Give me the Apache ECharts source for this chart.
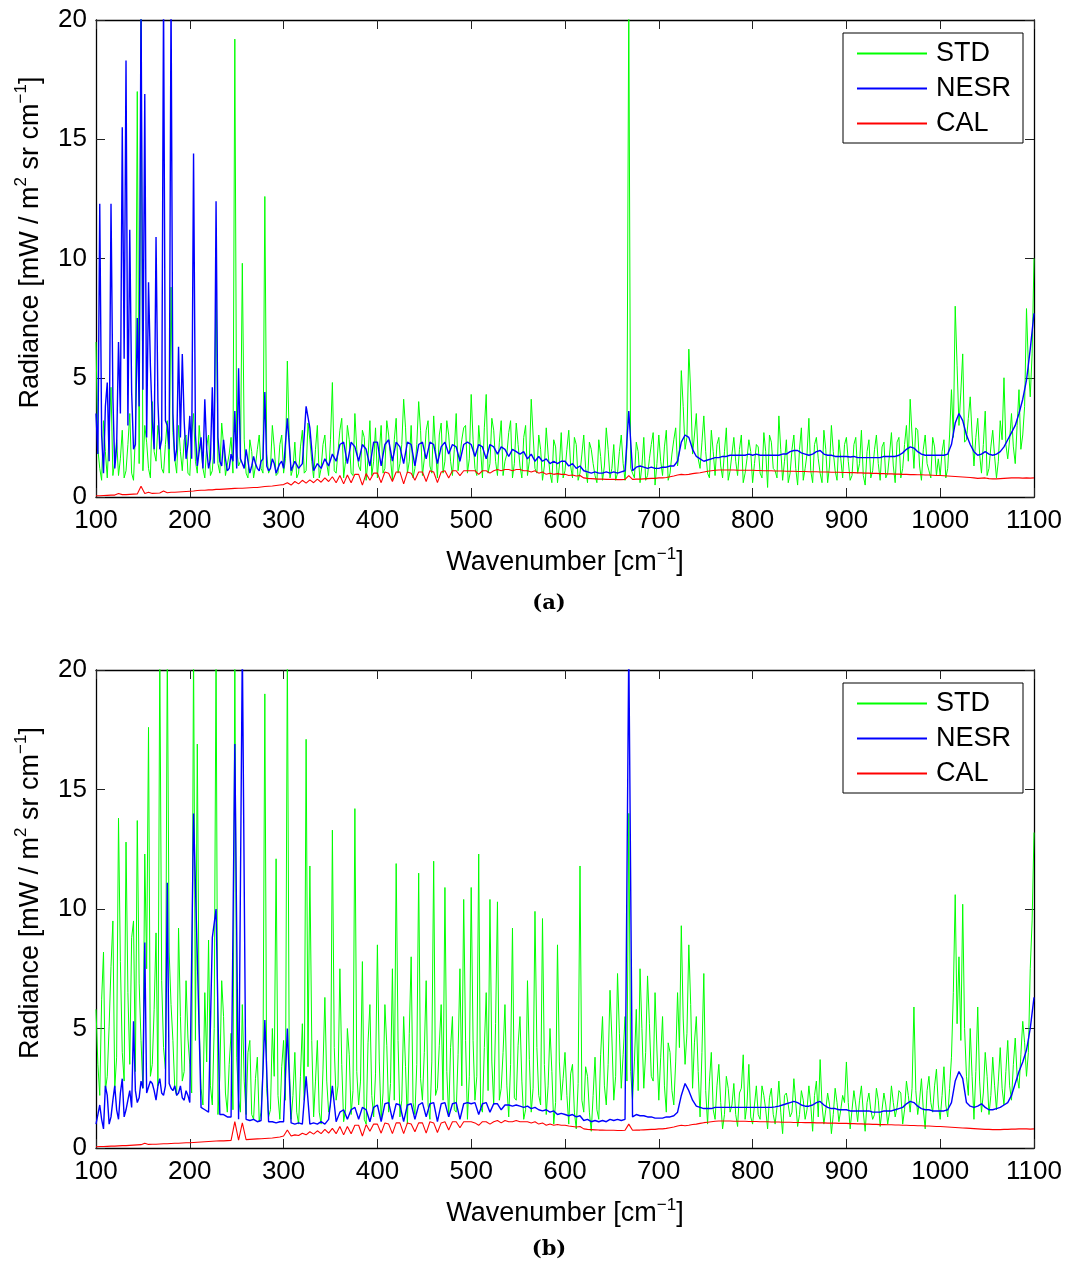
<!DOCTYPE html>
<html><head><meta charset="utf-8">
<script src="https://cdn.jsdelivr.net/npm/echarts@6/dist/echarts.min.js"></script>
<style>html,body{margin:0;padding:0;background:#fff}#c{width:1071px;height:1271px}</style>
</head><body><div id="c"></div><script>
// sampling grid of the spectra (wavenumber, cm^-1): main samples every 4, extra samples half-way between
const wnStart = 100, wnStep = 4;
const xMin = 100, xMax = 1100, xInterval = 100;
const yMin = 0, yMax = 20, yInterval = 5;
const seriesNames = ['STD', 'NESR', 'CAL'];
const captions = ['(a)', '(b)'];

// ---- panel (a) ----
const stdA = [
 6.5,1.2,3.2,0.8,4.6,1.5,0.9,2.8,1.1,3.5,0.7,17.0,21,3.0,1.2,4.0,1.5,2.5,1.0,3.2,8.8,1.6,3.0,1.1,2.6,
 0.9,3.5,1.0,2.0,0.8,2.6,1.1,9.2,1.0,2.2,0.9,2.5,19.2,1.3,9.8,1.0,2.4,0.8,2.0,1.2,12.6,1.0,3.0,0.9,2.2,
 1.0,5.7,0.9,2.3,1.0,2.8,1.1,2.4,0.8,3.0,1.2,2.6,0.9,4.8,1.0,2.8,0.8,3.0,1.0,3.5,1.3,2.8,0.7,3.2,1.5,
 0.8,3.0,1.2,2.6,0.7,3.3,1.4,4.1,1.0,3.0,1.2,4.0,0.9,2.8,1.3,3.4,0.8,3.1,1.5,2.6,0.9,3.5,1.1,2.9,1.0,
 4.3,1.2,3.0,0.8,4.3,1.4,2.8,0.9,3.2,1.5,2.7,0.8,3.1,1.3,2.5,0.9,4.1,1.2,2.6,0.7,2.9,1.0,2.4,0.6,2.7,
 1.1,2.8,0.8,2.2,1.0,2.6,0.6,2.0,0.9,2.4,0.7,2.9,0.8,2.2,1.0,2.6,0.7,21,1.0,2.3,0.6,2.5,0.9,2.2,0.5,
 2.6,0.9,2.8,1.0,2.4,1.3,5.3,2.0,6.2,1.8,3.5,1.2,3.4,1.0,2.8,0.9,2.5,0.8,2.9,1.1,2.5,0.9,2.6,1.0,2.4,
 0.6,2.2,1.0,2.7,0.4,2.3,1.1,3.4,0.7,2.4,1.0,2.6,0.5,2.9,1.2,3.3,0.6,2.5,1.0,2.8,0.6,3.0,1.1,2.4,0.8,
 2.5,0.7,2.2,1.0,2.8,0.5,2.4,1.1,2.6,0.7,2.3,1.0,2.7,0.6,2.5,1.2,3.0,4.1,1.2,2.8,0.7,2.6,1.1,2.5,0.9,
 0.9,2.4,1.2,4.5,8.0,3.0,6.0,2.4,4.2,1.3,3.3,1.0,3.6,1.2,2.8,0.8,3.2,5.0,1.6,3.5,1.4,4.5,2.6,7.9,4.2,
 10.0
];
const stdAMid = [
 2.0,0.7,1.9,2.7,0.9,2.4,1.6,0.8,2.2,1.0,2.6,1.4,1.1,2.3,0.8,1.9,3.0,1.2,2.2,1.0,2.7,1.0,1.9,2.4,1.0,
 2.6,1.5,3.0,1.2,2.1,0.9,2.3,1.4,3.1,0.9,1.8,1.0,2.0,1.5,2.4,0.8,1.9,1.3,2.6,1.0,1.8,1.2,2.1,1.0,2.6,
 1.6,2.5,1.2,0.8,2.1,1.0,3.1,1.5,2.0,0.8,2.2,1.4,2.4,1.1,1.9,3.3,1.5,2.4,0.9,2.0,1.1,2.5,1.6,0.9,2.9,
 1.9,1.0,3.2,1.6,2.4,1.0,2.2,2.9,1.5,0.8,2.2,2.8,1.6,3.2,1.0,2.0,2.6,1.0,3.2,1.5,2.0,1.1,2.4,3.0,1.6,
 2.4,0.9,2.0,2.9,1.0,3.3,1.5,2.3,0.9,1.8,3.2,1.4,2.2,0.8,3.0,1.5,2.6,1.0,2.0,1.3,1.8,0.6,2.1,1.3,0.8,
 2.0,1.3,2.5,0.7,1.8,1.2,2.3,1.4,0.6,1.7,1.3,2.0,1.2,0.7,1.9,1.4,2.1,1.2,0.8,1.9,1.3,0.7,1.6,2.7,1.4,
 1.5,2.1,0.7,1.8,2.9,2.0,3.8,2.5,4.4,2.6,1.6,2.3,1.9,0.8,1.9,2.2,1.3,1.9,0.7,1.8,1.5,2.0,0.6,1.6,1.9,
 1.4,2.1,0.8,1.9,2.6,1.2,0.8,2.0,1.5,0.6,2.0,1.2,2.0,0.7,1.8,1.1,2.2,1.6,0.6,2.0,1.3,1.9,0.7,1.6,2.2,
 1.5,0.9,2.5,1.4,0.9,1.9,0.8,2.0,1.4,2.1,0.8,1.8,1.3,2.3,0.8,2.2,1.5,2.6,2.9,1.3,2.0,1.4,0.8,2.1,1.6,
 1.9,0.8,2.6,2.5,5.5,4.4,2.3,3.3,2.6,2.5,1.8,2.2,0.9,2.1,1.7,1.5,2.4,2.2,2.4,2.1,3.0,2.0,3.8,5.5,6.0
];
const nesrA = [
 3.5,12.3,1.0,4.8,12.3,1.2,6.5,15.5,18.3,11.2,2.0,7.5,21,16.9,9.0,3.2,10.9,2.0,21,3.0,21,1.5,6.3,6.0,1.6,
 3.4,14.4,1.3,2.5,4.1,1.2,4.6,12.4,1.5,2.4,1.1,1.8,3.6,5.4,1.4,2.0,1.0,1.7,1.2,1.5,4.4,1.1,1.6,1.0,1.4,
 1.2,3.3,1.1,1.5,1.2,1.4,3.8,2.9,1.1,1.4,1.2,1.6,1.3,1.8,1.5,2.2,2.3,1.4,2.3,2.1,1.5,2.2,2.0,1.3,2.3,
 2.3,1.3,2.2,2.4,1.5,2.3,2.1,1.4,2.3,2.2,1.3,2.2,2.3,1.6,2.3,2.2,1.4,2.1,2.3,1.8,2.2,2.1,1.5,2.2,2.3,
 2.2,1.7,2.2,2.1,1.6,2.2,2.1,1.8,2.1,2.0,1.7,2.0,1.9,1.8,1.9,1.6,1.8,1.5,1.7,1.5,1.6,1.4,1.5,1.4,1.5,
 1.5,1.3,1.4,1.2,1.3,1.1,1.05,1.0,1.05,1.0,1.0,1.05,1.0,1.05,1.0,1.05,1.1,3.6,1.1,1.25,1.3,1.25,1.2,1.25,1.2,
 1.2,1.25,1.25,1.3,1.3,1.5,2.3,2.6,2.5,2.0,1.7,1.6,1.5,1.55,1.6,1.65,1.65,1.7,1.7,1.75,1.75,1.75,1.75,1.75,1.8,
 1.75,1.8,1.75,1.75,1.75,1.75,1.75,1.75,1.8,1.8,1.9,1.95,1.95,1.85,1.8,1.75,1.8,1.9,1.95,1.8,1.75,1.75,1.7,1.7,1.7,
 1.7,1.68,1.7,1.65,1.65,1.65,1.65,1.65,1.65,1.65,1.7,1.7,1.7,1.7,1.75,1.85,2.0,2.1,2.05,1.9,1.8,1.75,1.75,1.75,1.75,
 1.75,1.75,1.8,2.2,3.1,3.5,3.2,2.6,2.2,1.9,1.75,1.8,1.9,1.8,1.75,1.8,1.9,2.1,2.4,2.7,3.0,3.5,4.1,4.9,6.2,
 7.7
];
const nesrAMid = [
 1.8,2.6,3.8,1.5,4.2,2.1,3.5,5.8,3.0,4.4,2.2,3.8,4.5,2.5,5.5,2.0,4.0,2.4,3.2,2.0,3.5,2.0,2.5,3.2,2.2,
 1.6,2.6,1.9,1.2,2.0,1.6,1.4,2.5,1.3,1.6,1.2,1.5,1.2,1.6,1.2,1.5,1.3,1.4,1.1,1.6,1.3,1.2,1.4,1.2,1.5
];
const calA = [
 0.05,0.05,0.06,0.07,0.08,0.08,0.15,0.1,0.1,0.11,0.12,0.13,0.45,0.15,0.2,0.15,0.16,0.17,0.25,0.18,0.2,0.2,0.21,0.22,0.23,
 0.24,0.25,0.27,0.28,0.28,0.3,0.3,0.32,0.32,0.33,0.34,0.35,0.36,0.37,0.37,0.38,0.39,0.4,0.4,0.42,0.44,0.45,0.46,0.48,0.5,
 0.52,0.6,0.5,0.65,0.55,0.7,0.58,0.72,0.6,0.75,0.62,0.8,0.65,0.85,0.6,0.9,0.55,0.92,0.6,0.95,0.95,0.5,0.98,0.7,1.0,
 1.0,0.6,1.05,1.0,0.65,1.05,1.05,0.55,1.05,1.0,0.7,1.05,1.05,0.65,1.1,1.05,0.6,1.05,1.1,0.8,1.1,1.1,0.9,1.1,1.1,
 1.1,1.1,0.95,1.1,1.1,1.0,1.1,1.15,1.1,1.15,1.15,1.1,1.15,1.15,1.1,1.1,1.05,1.1,1.0,1.05,0.95,1.0,0.95,0.98,0.95,
 0.95,0.9,0.92,0.88,0.9,0.8,0.78,0.77,0.76,0.75,0.75,0.74,0.74,0.74,0.73,0.73,0.74,0.9,0.74,0.75,0.75,0.76,0.77,0.78,0.78,
 0.8,0.8,0.82,0.85,0.88,0.92,0.95,0.93,0.95,0.98,1.0,1.02,1.05,1.08,1.1,1.12,1.13,1.13,1.13,1.13,1.13,1.12,1.12,1.12,1.12,
 1.12,1.11,1.11,1.1,1.1,1.1,1.09,1.09,1.09,1.08,1.08,1.08,1.07,1.07,1.07,1.06,1.06,1.06,1.05,1.05,1.05,1.04,1.04,1.04,1.03,
 1.03,1.02,1.02,1.01,1.01,1.0,1.0,0.99,0.99,0.98,0.98,0.97,0.97,0.96,0.96,0.95,0.95,0.94,0.94,0.93,0.93,0.92,0.92,0.91,0.9,
 0.9,0.89,0.88,0.87,0.86,0.85,0.84,0.83,0.82,0.8,0.78,0.79,0.8,0.77,0.76,0.76,0.77,0.78,0.79,0.8,0.8,0.8,0.79,0.8,0.79,
 0.8
];

// ---- panel (b) ----
const stdB = [
 5.8,2.2,8.2,3.0,7.6,2.5,13.8,4.0,12.8,3.5,9.5,13.7,4.5,12.3,17.6,3.5,9.0,21,4.2,21,6.0,2.5,9.2,2.8,7.0,
 3.5,21,16.9,2.5,6.5,8.7,1.8,21,3.0,5.5,1.5,4.8,21,2.0,6.0,1.4,4.5,1.2,3.8,1.5,19.0,1.3,5.0,12.1,1.2,
 4.5,21,1.2,4.0,1.0,5.2,17.1,11.8,1.3,4.5,1.0,6.3,1.5,13.3,2.0,7.5,1.1,5.0,1.4,14.2,1.8,7.8,1.0,6.0,1.3,
 8.5,1.2,6.0,1.5,7.5,11.9,1.3,5.5,1.0,8.0,1.4,11.5,2.0,7.0,1.2,12.0,2.5,6.0,10.9,1.3,5.5,1.5,7.5,10.4,1.2,
 10.9,2.0,12.3,1.5,6.5,10.4,1.8,10.3,2.5,6.0,1.3,9.2,2.0,5.5,1.2,7.0,1.5,9.9,2.2,9.6,1.4,5.0,1.0,8.5,2.0,
 4.0,1.0,3.5,0.8,11.8,1.5,3.0,0.7,3.8,1.2,5.5,1.8,6.6,2.0,7.3,2.5,5.5,14.0,2.0,5.8,7.5,2.5,7.2,3.0,6.5,
 2.0,5.5,1.5,4.0,1.8,6.5,9.3,3.5,8.5,2.5,5.5,1.3,7.3,1.0,4.0,1.2,3.5,0.8,3.0,1.5,2.7,0.9,2.5,1.2,3.5,
 1.0,2.6,1.2,2.2,0.8,2.5,1.0,2.8,0.6,2.3,1.3,2.9,0.9,2.4,1.2,2.6,0.7,2.8,3.7,1.0,2.3,0.6,2.5,1.1,2.2,
 3.6,0.8,2.4,1.1,2.6,0.7,2.3,1.2,2.5,0.9,2.3,1.0,2.6,1.3,2.4,1.0,2.8,1.5,5.9,1.4,2.9,0.8,3.0,1.5,3.3,
 1.2,3.4,1.3,3.8,10.6,8.0,10.2,3.0,5.0,1.2,5.9,1.5,4.0,1.4,3.8,1.6,4.2,1.8,4.5,2.0,4.6,2.5,5.3,3.0,7.5,
 13.2
];
const stdBMid = [
 3.5,6.2,2.4,5.1,9.5,3.8,7.8,2.8,6.5,8.8,3.2,6.9,2.5,7.5,3.0,5.8,2.6,7.0,3.3,8.2,4.5,2.2,5.5,3.2,4.6,
 2.3,4.5,5.2,1.8,3.6,2.6,5.0,1.4,7.0,2.3,3.5,1.6,3.8,1.5,2.8,4.0,1.4,2.9,1.1,3.3,2.5,1.6,3.0,2.2,3.4,
 2.0,3.6,2.2,1.5,3.0,2.0,3.4,4.5,2.8,1.5,3.3,2.8,1.8,4.2,2.6,3.5,1.6,3.9,2.4,3.2,2.8,1.2,4.4,2.2,3.1,
 3.6,2.3,4.3,2.7,2.0,4.5,2.0,3.4,4.8,1.9,3.5,2.9,4.0,1.8,3.6,2.2,4.3,2.0,3.2,4.2,1.6,3.9,2.6,4.5,3.0,
 4.5,3.0,1.7,4.2,2.4,3.6,5.2,2.0,4.0,2.6,3.5,2.1,4.3,2.8,1.6,3.7,2.5,4.2,1.8,3.5,2.6,3.2,1.9,3.6,2.9,
 2.2,3.1,1.5,2.7,2.0,3.4,1.5,2.2,1.6,3.9,2.6,3.5,4.6,3.0,4.8,3.9,2.8,3.2,3.6,2.4,5.0,4.0,5.2,2.8,4.1,
 3.8,2.6,4.4,2.4,3.6,4.2,5.4,4.8,6.0,4.4,3.2,4.0,2.4,2.8,1.6,2.6,1.9,1.4,2.5,1.8,1.4,2.3,3.9,1.8,1.3,
 1.8,1.4,2.6,1.6,2.1,1.4,1.7,1.5,2.2,1.8,1.5,1.9,1.4,2.0,1.6,1.8,2.2,1.3,1.8,1.6,1.8,1.4,1.9,1.6,1.9,
 1.9,1.6,1.8,2.0,1.5,1.9,1.6,1.4,2.0,1.6,1.8,1.5,1.9,1.7,2.3,1.6,2.2,2.5,2.4,2.0,1.6,2.4,1.9,2.6,1.8,
 2.2,1.8,2.5,6.5,5.2,4.5,5.0,2.2,3.0,3.2,2.8,2.3,3.0,2.2,2.6,2.8,2.5,3.2,2.6,3.5,3.0,3.9,4.4,4.0,9.5
];
const nesrB = [
 1.0,1.8,0.8,2.2,1.3,2.6,1.2,2.9,1.6,2.4,5.3,1.9,2.8,8.6,2.3,2.7,2.0,2.9,2.2,11.1,2.5,2.6,2.3,2.1,2.4,
 1.9,14.0,8.0,1.7,1.6,1.5,8.8,10.0,1.4,1.4,1.3,1.3,16.9,1.2,21,1.2,1.15,1.2,1.1,1.15,5.35,1.1,1.1,1.05,1.1,
 1.1,5.0,1.05,1.0,1.05,1.0,3.0,1.0,1.05,1.0,1.1,1.0,1.2,2.6,1.1,1.5,1.6,1.2,1.6,1.7,1.2,1.7,1.6,1.1,1.7,
 1.8,1.1,1.85,1.9,1.2,1.85,1.8,1.1,1.8,1.85,1.2,1.8,1.9,1.3,1.85,1.9,1.1,1.85,1.9,1.3,1.85,1.9,1.2,1.85,1.9,
 1.85,1.9,1.4,1.85,1.9,1.5,1.85,1.85,1.6,1.8,1.8,1.75,1.8,1.75,1.7,1.75,1.65,1.7,1.6,1.55,1.6,1.5,1.55,1.4,1.45,
 1.4,1.35,1.4,1.3,1.35,1.15,1.2,1.1,1.15,1.1,1.15,1.1,1.2,1.15,1.2,1.15,1.2,21,1.3,1.4,1.35,1.35,1.3,1.3,1.25,
 1.25,1.25,1.3,1.3,1.35,1.5,2.2,2.7,2.4,2.0,1.75,1.7,1.65,1.65,1.65,1.7,1.7,1.7,1.7,1.7,1.7,1.7,1.7,1.7,1.7,
 1.7,1.7,1.7,1.7,1.7,1.7,1.72,1.75,1.8,1.85,1.9,1.95,1.9,1.8,1.75,1.75,1.8,1.9,1.95,1.8,1.7,1.65,1.65,1.6,1.6,
 1.6,1.55,1.55,1.55,1.55,1.55,1.55,1.5,1.5,1.5,1.55,1.55,1.55,1.6,1.65,1.7,1.85,1.95,1.9,1.75,1.65,1.6,1.6,1.55,1.55,
 1.55,1.55,1.6,1.9,2.8,3.2,2.9,1.9,1.75,1.7,1.75,1.85,1.7,1.6,1.6,1.65,1.7,1.8,1.9,2.2,2.7,3.2,3.6,4.1,5.0,
 6.3
];
const nesrBMid = [
 1.4,1.2,2.6,1.0,2.0,1.6,2.3,1.3,2.0,1.7,2.4,2.1,2.5,2.3,2.8,2.4,2.6,2.3,2.6,2.7,2.4,2.2,2.6,2.0,2.2
];
const calB = [
 0.05,0.06,0.06,0.07,0.08,0.08,0.09,0.1,0.1,0.11,0.12,0.13,0.14,0.2,0.15,0.16,0.16,0.17,0.18,0.18,0.19,0.2,0.2,0.21,0.22,
 0.22,0.23,0.24,0.25,0.26,0.27,0.28,0.29,0.3,0.3,0.31,0.32,1.1,0.33,1.05,0.35,0.36,0.37,0.38,0.39,0.4,0.41,0.42,0.44,0.46,
 0.5,0.75,0.5,0.55,0.52,0.62,0.55,0.68,0.58,0.72,0.6,0.78,0.62,0.82,0.6,0.9,0.55,0.9,0.6,0.95,0.95,0.5,0.98,0.7,1.0,
 1.0,0.62,1.05,1.0,0.6,1.05,1.05,0.6,1.05,1.0,0.68,1.05,1.05,0.62,1.1,1.05,0.65,1.05,1.1,0.75,1.1,1.1,0.85,1.1,1.1,
 1.1,1.05,0.95,1.1,1.1,1.0,1.1,1.15,1.05,1.15,1.1,1.1,1.15,1.1,1.1,1.1,1.05,1.1,1.0,1.05,0.95,1.0,0.95,0.98,0.95,
 0.95,0.92,0.9,0.88,0.9,0.8,0.78,0.77,0.76,0.75,0.75,0.74,0.74,0.74,0.73,0.73,0.74,1.0,0.74,0.75,0.75,0.76,0.77,0.78,0.78,
 0.8,0.8,0.82,0.85,0.88,0.92,0.95,0.93,0.95,0.98,1.0,1.03,1.06,1.08,1.1,1.12,1.13,1.13,1.13,1.13,1.12,1.12,1.12,1.12,1.11,
 1.11,1.11,1.1,1.1,1.1,1.09,1.09,1.09,1.08,1.08,1.08,1.07,1.07,1.07,1.06,1.06,1.06,1.05,1.05,1.05,1.04,1.04,1.04,1.03,1.03,
 1.03,1.02,1.02,1.01,1.01,1.0,1.0,0.99,0.99,0.98,0.98,0.97,0.97,0.96,0.96,0.95,0.95,0.94,0.94,0.93,0.93,0.92,0.92,0.91,0.9,
 0.9,0.89,0.88,0.87,0.86,0.85,0.84,0.83,0.82,0.81,0.8,0.79,0.78,0.78,0.77,0.77,0.77,0.78,0.78,0.79,0.79,0.8,0.8,0.8,0.79,
 0.8
];

const FONT = '"Liberation Sans", Arial, Helvetica, sans-serif';
const colors = {STD: '#00ff00', NESR: '#0000ff', CAL: '#ff0000'};
const widths = {STD: 1, NESR: 1.4, CAL: 1.1};
const panels = [
  {top: 20, height: 477, std: [stdA, stdAMid], nesr: [nesrA, nesrAMid], cal: [calA, []], legendTop: 33, capY: 604},
  {top: 670, height: 478, std: [stdB, stdBMid], nesr: [nesrB, nesrBMid], cal: [calB, []], legendTop: 683, capY: 1250}
];
// main samples at wnStart + wnStep*i, extra samples half a step later
function toPairs(main, mid) {
  const out = [];
  main.forEach((v, i) => {
    out.push([wnStart + wnStep * i, v]);
    if (i < mid.length) out.push([wnStart + wnStep * i + wnStep / 2, mid[i]]);
  });
  return out;
}

const option = {
  animation: false,
  backgroundColor: '#fff',
  grid: [], xAxis: [], yAxis: [], series: [], legend: [], graphic: []
};
panels.forEach((p, k) => {
  option.grid.push({left: 96, top: p.top, width: 938, height: p.height, show: false, containLabel: false});
  const tick = {show: true, inside: true, length: 9, lineStyle: {color: '#222', width: 1}};
  const line = {show: true, onZero: false, lineStyle: {color: '#000', width: 1.3}};
  option.xAxis.push({
    type: 'value', gridIndex: k, position: 'bottom', min: xMin, max: xMax, interval: xInterval,
    axisLine: line, axisTick: tick, splitLine: {show: false},
    axisLabel: {fontSize: 26, color: '#000', margin: 11, fontFamily: FONT, formatter: v => String(v)},
    name: 'Wavenumber [cm{sup|−1}]', nameLocation: 'middle', nameGap: 49,
    nameTextStyle: {fontSize: 27, lineHeight: 34, color: '#000', fontFamily: FONT,
      rich: {sup: {fontSize: 17, lineHeight: 17, verticalAlign: 'top', color: '#000', fontFamily: FONT}}}
  });
  option.xAxis.push({
    type: 'value', gridIndex: k, position: 'top', min: xMin, max: xMax, interval: xInterval,
    axisLine: line, axisTick: tick, splitLine: {show: false}, axisLabel: {show: false}
  });
  option.yAxis.push({
    type: 'value', gridIndex: k, position: 'left', min: yMin, max: yMax, interval: yInterval,
    axisLine: line, axisTick: tick, splitLine: {show: false},
    axisLabel: {fontSize: 26, color: '#000', margin: 9, fontFamily: FONT, formatter: v => String(v)},
    name: 'Radiance [mW / m{sup|2} sr cm{sup|−1}]', nameLocation: 'middle', nameGap: 48, nameRotate: 90,
    nameTextStyle: {fontSize: 27, lineHeight: 34, color: '#000', fontFamily: FONT, padding: [0, 0, 0, 32],
      rich: {sup: {fontSize: 17, lineHeight: 17, verticalAlign: 'top', color: '#000', fontFamily: FONT}}}
  });
  option.yAxis.push({
    type: 'value', gridIndex: k, position: 'right', min: yMin, max: yMax, interval: yInterval,
    axisLine: line, axisTick: tick, splitLine: {show: false}, axisLabel: {show: false}
  });
  const xi = 2 * k, yi = 2 * k;
  [['STD', p.std], ['NESR', p.nesr], ['CAL', p.cal]].forEach(([name, arrs]) => {
    option.series.push({
      type: 'line', name, xAxisIndex: xi, yAxisIndex: yi, data: toPairs(arrs[0], arrs[1]),
      symbol: 'none', showSymbol: false, clip: true,
      lineStyle: {color: colors[name], width: widths[name]}, itemStyle: {color: colors[name]}
    });
  });
  option.legend.push({
    orient: 'vertical', left: 843, top: p.legendTop, itemWidth: 70, itemHeight: 2, itemGap: 8,
    padding: [7, 12, 6, 14], borderColor: '#000', borderWidth: 1, backgroundColor: '#fff',
    textStyle: {fontSize: 27, lineHeight: 27, color: '#000', fontFamily: FONT, padding: [0, 0, 0, 4]},
    data: seriesNames.map(n => ({
      name: n, icon: 'rect',
      itemStyle: {color: colors[n], opacity: 1, borderWidth: 0, borderColor: colors[n]}
    })),
    selectedMode: false
  });
  option.graphic.push({
    type: 'text', x: 549, y: p.capY, z: 10,
    style: {text: captions[k], fontSize: 21, fontWeight: 'bold', fontFamily: '"DejaVu Serif", "Liberation Serif", serif',
      fill: '#000', align: 'center', verticalAlign: 'middle'}
  });
});

const chart = echarts.init(document.getElementById('c'), null, {renderer: 'canvas'});
chart.setOption(option);
</script></body></html>
